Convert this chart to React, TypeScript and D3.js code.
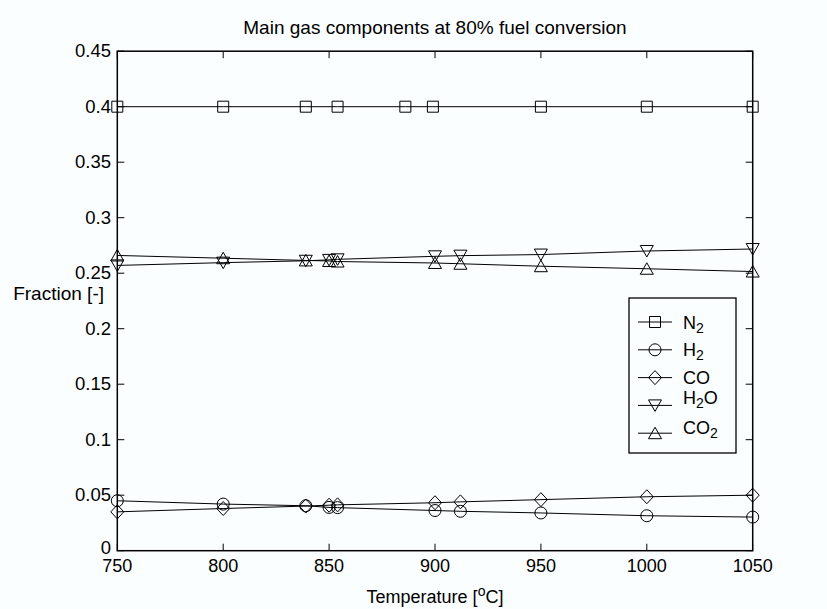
import React, { useEffect, useRef } from 'react';
import * as d3 from 'd3';

// temperatures (deg C)
const temps = [750, 800, 839, 850, 854, 900, 912, 950, 1000, 1050];
const n2Temps = [750, 800, 839, 854, 886, 899, 950, 1000, 1050];

const n2 = [0.4, 0.4, 0.4, 0.4, 0.4, 0.4, 0.4, 0.4, 0.4];
const h2 = [0.045, 0.042, 0.0405, 0.039, 0.0388, 0.0362, 0.0355, 0.034, 0.0315, 0.0303];
const co = [0.035, 0.038, 0.0402, 0.041, 0.0413, 0.0432, 0.0440, 0.046, 0.0486, 0.050];
const h2o = [0.257, 0.2595, 0.2612, 0.262, 0.2625, 0.2652, 0.2658, 0.2668, 0.270, 0.2718];
const co2 = [0.266, 0.2635, 0.2615, 0.261, 0.2605, 0.2592, 0.2585, 0.2563, 0.2540, 0.2515];

const xTicks = [750, 800, 850, 900, 950, 1000, 1050];
const yTicks = [0, 0.05, 0.1, 0.15, 0.2, 0.25, 0.3, 0.35, 0.4, 0.45];

const series = [
  { name: 'N', sub: '2', tail: '', marker: 'square', xs: n2Temps, values: n2 },
  { name: 'H', sub: '2', tail: '', marker: 'circle', xs: temps, values: h2 },
  { name: 'CO', sub: '', tail: '', marker: 'diamond', xs: temps, values: co },
  { name: 'H', sub: '2', tail: 'O', marker: 'down', xs: temps, values: h2o },
  { name: 'CO', sub: '2', tail: '', marker: 'up', xs: temps, values: co2 },
];

const markerPath = (type: string) => {
  switch (type) {
    case 'square':
      return 'M-5.5,-5.5h11v11h-11Z';
    case 'circle':
      return 'M6,0A6,6 0 1,1 -6,0A6,6 0 1,1 6,0Z';
    case 'diamond':
      return 'M0,-7L6.5,0L0,7L-6.5,0Z';
    case 'up':
      return 'M0,-6L6.5,5.5L-6.5,5.5Z';
    default:
      return 'M0,6L6.5,-5.5L-6.5,-5.5Z';
  }
};

const W = 827;
const H = 609;
const font = '"Liberation Sans", Arial, Helvetica, sans-serif';

const App = () => {
  const ref = useRef<SVGSVGElement>(null);

  useEffect(() => {
    const svg = d3.select(ref.current);
    svg.selectAll('*').remove();

    const left = 117.3, right = 752.7, top = 51.2, bottom = 550.7;

    const x = d3.scaleLinear().domain([750, 1050]).range([left, right]);
    const y = d3.scaleLinear().domain([0, 0.45]).range([bottom, top]);

    svg.append('rect').attr('width', W).attr('height', H).attr('fill', '#fbfefe');

    const g = svg.append('g').style('font-family', font);

    // ticks, inside on all four sides
    const tl = 7;
    xTicks.forEach(t => {
      g.append('line').attr('x1', x(t)).attr('x2', x(t)).attr('y1', bottom).attr('y2', bottom - tl)
        .attr('stroke', '#000');
      g.append('line').attr('x1', x(t)).attr('x2', x(t)).attr('y1', top).attr('y2', top + tl)
        .attr('stroke', '#000');
      g.append('text').attr('x', x(t)).attr('y', 572).attr('text-anchor', 'middle')
        .style('font-size', '18px').attr('fill', '#000').text(t);
    });
    yTicks.forEach(t => {
      g.append('line').attr('x1', left).attr('x2', left + tl).attr('y1', y(t)).attr('y2', y(t))
        .attr('stroke', '#000');
      g.append('line').attr('x1', right).attr('x2', right - tl).attr('y1', y(t)).attr('y2', y(t))
        .attr('stroke', '#000');
      g.append('text').attr('x', 111).attr('y', y(t) + (t === 0 ? 3.5 : 6)).attr('text-anchor', 'end')
        .style('font-size', '18.5px').attr('fill', '#000').text(t);
    });

    // axes box
    g.append('rect').attr('x', left).attr('y', top).attr('width', right - left).attr('height', bottom - top)
      .attr('fill', 'none').attr('stroke', '#000').attr('stroke-width', 1.5);

    series.forEach(s => {
      const line = d3.line<number>()
        .x((d, i) => x(s.xs[i]))
        .y(d => y(d));
      g.append('path').datum(s.values).attr('fill', 'none').attr('stroke', '#000')
        .attr('stroke-width', 1).attr('d', line);
      g.selectAll(null).data(s.values).enter().append('path')
        .attr('transform', (d, i) => `translate(${x(s.xs[i])},${y(d)})`)
        .attr('d', markerPath(s.marker))
        .attr('fill', 'none').attr('stroke', '#000').attr('stroke-width', 1);
    });

    // legend
    const lg = g.append('g');
    lg.append('rect').attr('x', 629).attr('y', 298).attr('width', 107).attr('height', 155)
      .attr('fill', '#fbfefe').attr('stroke', '#000').attr('stroke-width', 1.3);
    const textShift = [0, 0, 0, -8, -6];
    series.forEach((s, i) => {
      const ly = 322 + i * 27.8;
      lg.append('line').attr('x1', 638).attr('x2', 672).attr('y1', ly).attr('y2', ly).attr('stroke', '#000');
      lg.append('path').attr('transform', `translate(655,${ly})`).attr('d', markerPath(s.marker))
        .attr('fill', 'none').attr('stroke', '#000');
      const t = lg.append('text').attr('x', 683).attr('y', ly + 6.5 + textShift[i])
        .style('font-size', '18px').attr('fill', '#000');
      t.append('tspan').text(s.name);
      if (s.sub) t.append('tspan').attr('dy', 4).style('font-size', '14px').text(s.sub);
      if (s.tail) t.append('tspan').attr('dy', -4).text(s.tail);
    });

    // title & labels
    g.append('text').attr('x', (left + right) / 2).attr('y', 34).attr('text-anchor', 'middle')
      .style('font-size', '19px').attr('fill', '#000').text('Main gas components at 80% fuel conversion');

    const xl = g.append('text').attr('x', (left + right) / 2).attr('y', 603).attr('text-anchor', 'middle')
      .style('font-size', '18px').attr('fill', '#000');
    xl.append('tspan').text('Temperature [');
    xl.append('tspan').attr('dy', -7).style('font-size', '14px').text('o');
    xl.append('tspan').attr('dy', 7).text('C]');

    g.append('text').attr('x', 104).attr('y', 300).attr('text-anchor', 'end')
      .style('font-size', '19px').attr('fill', '#000').text('Fraction [-]');
  }, []);

  return <svg ref={ref} width={W} height={H} style={{ position: 'absolute', left: 0, top: 0 }} />;
};

export default App;
